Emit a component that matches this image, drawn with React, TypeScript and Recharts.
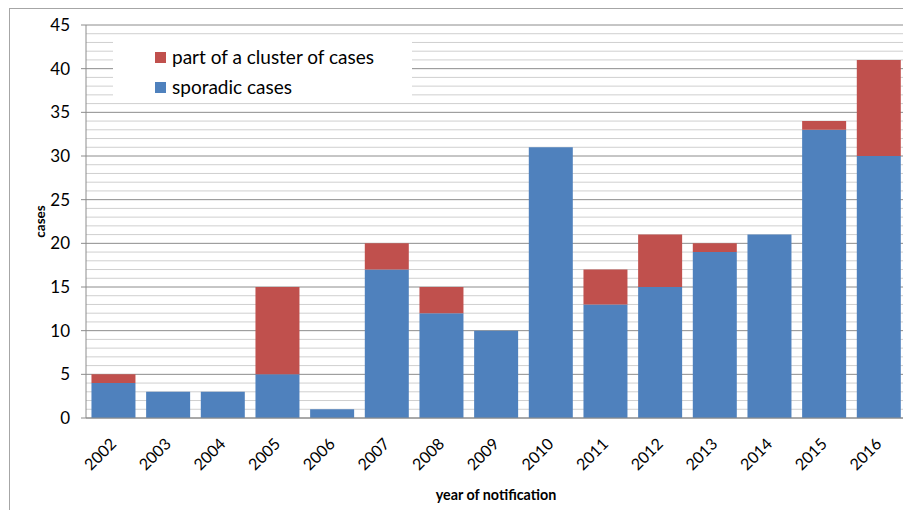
import React from "react";
import { BarChart, Bar, XAxis, YAxis, CartesianGrid, Label } from "recharts";

const years = ["2002", "2003", "2004", "2005", "2006", "2007", "2008", "2009", "2010", "2011", "2012", "2013", "2014", "2015", "2016"];
const sporadic = [4, 3, 3, 5, 1, 17, 12, 10, 31, 13, 15, 19, 21, 33, 30];
const cluster = [1, 0, 0, 10, 0, 3, 3, 0, 0, 4, 6, 1, 0, 1, 11];
const majorTicks = [0, 5, 10, 15, 20, 25, 30, 35, 40, 45];
const minorTicks = [1, 2, 3, 4, 6, 7, 8, 9, 11, 12, 13, 14, 16, 17, 18, 19, 21, 22, 23, 24, 26, 27, 28, 29, 31, 32, 33, 34, 36, 37, 38, 39, 41, 42, 43, 44];
const legendItems = [
  { label: "part of a cluster of cases", color: "#C0504D" },
  { label: "sporadic cases", color: "#4F81BD" },
];

const BLUE = "#4F81BD";
const RED = "#C0504D";
const FONT = "Lato, 'Open Sans', sans-serif";

const data = years.map((y, i) => ({ year: y, sporadic: sporadic[i], cluster: cluster[i] }));

const XTick = (props: any) => {
  const { x, y, payload } = props;
  const ax = x + 4;
  const ay = y + 27;
  return (
    <text x={ax} y={ay} textAnchor="end" fontSize={16} fontFamily={FONT} fill="#000" transform={`rotate(-45, ${ax}, ${ay})`}>
      {payload.value}
    </text>
  );
};

export default function App() {
  return (
    <div style={{ position: "fixed", left: 8, top: 8, width: 895, height: 502, overflow: "hidden", background: "#fff" }}>
      <div style={{ position: "absolute", left: 1, top: 0, width: 2000, height: 2000, borderLeft: "1px solid #a6a6a6", borderTop: "1px solid #a6a6a6" }} />
      <div style={{ position: "absolute", left: 0, top: 0 }}>
        <BarChart width={910} height={502} data={data} margin={{ top: 17, right: 12, left: 0, bottom: 0 }} barCategoryGap="10%">
          <CartesianGrid vertical={false} horizontalValues={minorTicks} stroke="#cfcfcf" strokeWidth={1} />
          <CartesianGrid vertical={false} stroke="#8c8c8c" strokeWidth={1} />
          <XAxis dataKey="year" height={92} tickLine={false} tickSize={0} tickMargin={0} axisLine={{ stroke: "#8c8c8c" }} tick={<XTick />} interval={0}>
            <Label value="year of notification" position="insideBottom" offset={10} style={{ fontFamily: FONT, fontSize: 14.3, fontWeight: 700, fill: "#000" }} />
          </XAxis>
          <YAxis width={78} domain={[0, 45]} ticks={majorTicks} interval={0} tickSize={5} tickMargin={11} axisLine={{ stroke: "#8c8c8c" }} tickLine={{ stroke: "#8c8c8c" }} tick={{ fontFamily: FONT, fontSize: 17, fill: "#000" }}>
            <Label value="cases" angle={-90} position="center" dx={-7} style={{ fontFamily: FONT, fontSize: 13.5, fontWeight: 700, fill: "#000", textAnchor: "middle" }} />
          </YAxis>
          <Bar dataKey="sporadic" stackId="a" fill={BLUE} isAnimationActive={false} />
          <Bar dataKey="cluster" stackId="a" fill={RED} isAnimationActive={false} />
        </BarChart>
      </div>
      <div style={{ position: "absolute", left: 105, top: 27, width: 299, height: 67, background: "#fff", fontFamily: FONT, fontSize: 19, color: "#000" }}>
        {legendItems.map((it, i) => (
          <div key={it.label} style={{ position: "absolute", left: 42, top: 11 + i * 30, display: "flex", alignItems: "center", whiteSpace: "nowrap", lineHeight: "22px" }}>
            <span style={{ display: "inline-block", width: 11, height: 11, background: it.color, marginRight: 6 }} />
            <span>{it.label}</span>
          </div>
        ))}
      </div>
    </div>
  );
}
